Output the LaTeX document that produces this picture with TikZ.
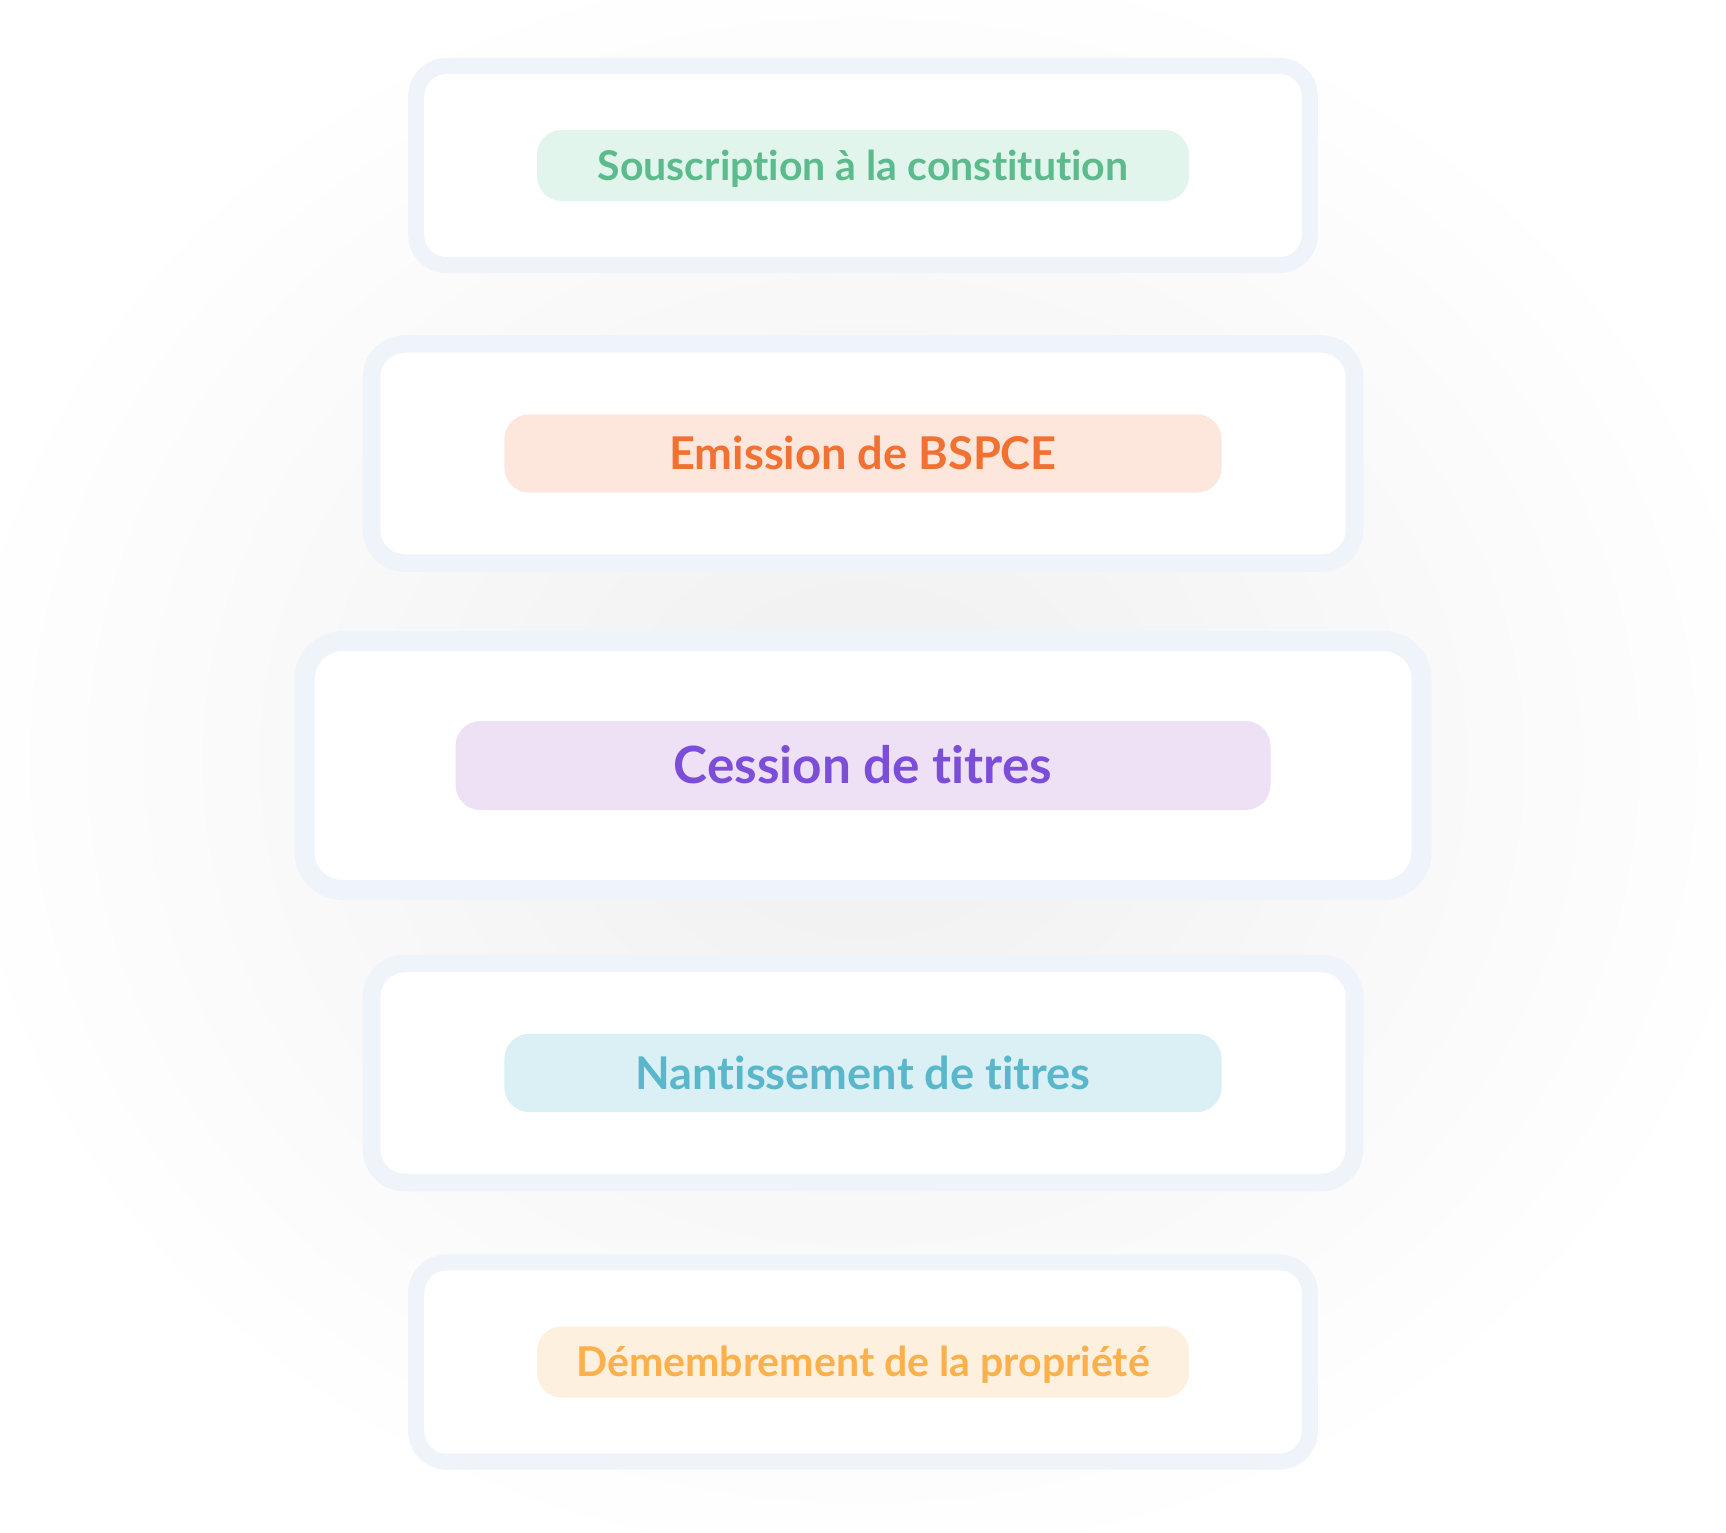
\documentclass[tikz,border=0pt]{standalone}
\usepackage{fontspec}
\setmainfont{Lato}[Ligatures={NoCommon}]
\definecolor{inkframe}{HTML}{EFF3FA}
\definecolor{inkhalo}{HTML}{EFEFEF}
\definecolor{inkgreen}{HTML}{5CBB8C}
\definecolor{tintgreen}{HTML}{E2F5EC}
\definecolor{inkorange}{HTML}{F07132}
\definecolor{tintorange}{HTML}{FDE6DC}
\definecolor{inkpurple}{HTML}{7B4DD8}
\definecolor{tintpurple}{HTML}{EEE0F5}
\definecolor{inkcyan}{HTML}{5AB7CB}
\definecolor{tintcyan}{HTML}{DAF0F5}
\definecolor{inkamber}{HTML}{FBB04B}
\definecolor{tintamber}{HTML}{FEF0DE}
\newcommand{\stagebox}[6]{%
  \node[draw=inkframe, line width=#3*0.2cm, rounded corners=#3*0.38cm, fill=white,
        minimum width=#3*11.17cm, minimum height=#3*2.49cm] (#1) at (8.63,#2) {};
  \node[fill=#4, rounded corners=0.25cm, minimum width=8.15cm, minimum height=0.89cm,
        inner sep=0pt, text height=10.5pt, text depth=0pt, text=#5,
        font=\bfseries\fontsize{14.6}{16}\selectfont,
        scale=#3, transform shape] (#1t) at (#1.center) {#6};}

\begin{document}
\begin{tikzpicture}
      \useasboundingbox (0,0) rectangle (17.26,-15.33);
      \fill[white] (0,0) rectangle (17.26,-15.33);
      \shade[inner color=inkhalo, outer color=white] (8.63,-7.6) ellipse (9.2 and 8.2);
      \stagebox{s1}{-1.655}{0.8}{tintgreen}{inkgreen}{Souscription à la constitution}
      \stagebox{s2}{-4.535}{0.88}{tintorange}{inkorange}{Emission de BSPCE}
      \stagebox{s3}{-7.655}{1}{tintpurple}{inkpurple}{Cession de titres}
      \stagebox{s4}{-10.73}{0.88}{tintcyan}{inkcyan}{Nantissement de titres}
      \stagebox{s5}{-13.62}{0.8}{tintamber}{inkamber}{Démembrement de la propriété}
    \end{tikzpicture}
\end{document}
